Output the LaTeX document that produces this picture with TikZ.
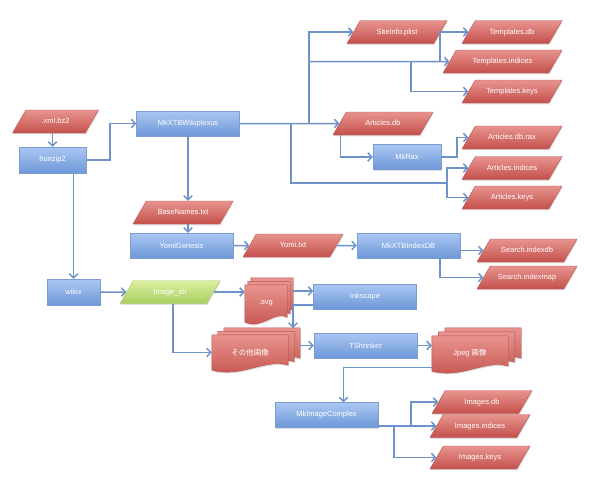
\documentclass[tikz,border=0pt]{standalone}
\usepackage{fontspec}
\setmainfont{Liberation Sans}
\newfontfamily\jpfont{Noto Sans CJK JP}
\usetikzlibrary{shapes.geometric,arrows.meta,backgrounds,calc,shadows}
\definecolor{wpBlueTop}{HTML}{AAC7F2}
\definecolor{wpBlueBot}{HTML}{6E98D8}
\definecolor{wpBlueRule}{HTML}{7B9CD1}
\definecolor{wpRedTop}{HTML}{E8948F}
\definecolor{wpRedBot}{HTML}{C4504B}
\definecolor{wpRedRule}{HTML}{B9524E}
\definecolor{wpGreenTop}{HTML}{DDF0A2}
\definecolor{wpGreenBot}{HTML}{A9CF5F}
\definecolor{wpGreenRule}{HTML}{A6C66A}
\definecolor{wpLink}{HTML}{6E93CB}

% stack of three documents behind node #1, layers stepped by (#2,#3)
\newcommand\docstack[3]{%
  \begin{scope}[on background layer]
    \foreach \k in {2,1,0}
      \path[docs] let \p1=([shift={(\k*#2,\k*(#3))}]#1.north west),
                      \p2=([shift={(\k*#2,\k*(#3))}]#1.south east) in
        (\x1,\y1) -- (\x2,\y1) -- (\x2,\y2+5pt)
        .. controls ({\x2-0.3*(\x2-\x1)},\y2+12pt) and ({\x1+0.4*(\x2-\x1)},\y2-8pt) .. (\x1,\y2) -- cycle;
  \end{scope}}

\begin{document}
\begin{tikzpicture}[x=1pt, y=-1pt, font=\fontsize{7.5}{9}\selectfont,
  shade/.style={drop shadow={shadow xshift=0.8pt,shadow yshift=-1.3pt,opacity=0.25}},
  proc/.style={rectangle,draw=wpBlueRule,top color=wpBlueTop,bottom color=wpBlueBot,
    text=white,minimum width=103pt,minimum height=25pt,inner sep=1pt,shade},
  data/.style={trapezium,trapezium left angle=60,trapezium right angle=120,
    trapezium stretches body=true,draw=wpRedRule,top color=wpRedTop,bottom color=wpRedBot,
    text=white,minimum width=100pt,text height=6pt,text depth=1.8pt,
    inner xsep=1pt,inner ysep=7.6pt,shade},
  script/.style={data,draw=wpGreenRule,top color=wpGreenTop,bottom color=wpGreenBot},
  docnode/.style={rectangle,text=white,inner sep=0pt},
  docs/.style={draw=wpRedRule,top color=wpRedTop,bottom color=wpRedBot,shade},
  ln/.style={draw=wpLink,line width=1.5pt,-{Straight Barb[length=4pt,width=8.5pt]}}]
\useasboundingbox (0,0) rectangle (600,479);

% processes
\node[proc,minimum width=67pt,minimum height=26pt] (bz) at (52.5,160) {bunzip2};
\node[proc] (wiki) at (188,123.5) {MkXTBWikiplexus};
\node[proc,minimum width=68pt] (mkrax) at (407,157) {MkRax};
\node[proc] (yomigen) at (181.5,245.5) {YomiGenesis};
\node[proc] (idx) at (408.5,245.5) {MkXTBIndexDB};
\node[proc,minimum width=53pt,minimum height=26pt] (wikix) at (73.5,292) {wikix};
\node[proc] (ink) at (365,296.5) {Inkscape};
\node[proc] (tshr) at (365.5,345.5) {TShrinker};
\node[proc] (mkimg) at (326.5,415) {MkImageComplex};

% data files
\node[data,minimum width=86pt] (xml) at (55.5,121.5) {.xml.bz2};
\node[data,minimum width=119pt] (tmplidx) at (502.5,61.5) {Templates.indices};
\foreach \n/\t/\x/\y in {site/SiteInfo.plist/397/32, tmpldb/Templates.db/512/32,
    tmplkeys/Templates.keys/512/91.5, artdb/Articles.db/383/123.5,
    artrax/Articles.db.rax/512/137.5, artidx/Articles.indices/512/168,
    artkeys/Articles.keys/512/197.5, base/BaseNames.txt/183/212.5,
    yomi/Yomi.txt/293/245.5, sidxdb/Search.indexdb/527/250.5,
    sidxmap/Search.indexmap/527/277.5, imgdb/Images.db/482/402,
    imgidx/Images.indices/480/426, imgkeys/Images.keys/480/457.5}
  \node[data] (\n) at (\x,\y) {\t};
\node[script] (imgsh) at (170,292) {Image\_sh};

% document stacks
\node[docnode,minimum width=42pt,minimum height=37pt] (svg) at (266,303.5) {.svg};
\docstack{svg}{3}{-3.5}
\node[docnode,minimum width=76pt,minimum height=35pt] (others) at (250,352.5) {\jpfont その他画像};
\docstack{others}{6}{-3.5}
\node[docnode,minimum width=76pt,minimum height=35pt] (jpeg) at (470,353.5) {Jpeg {\jpfont 画像}};
\docstack{jpeg}{6.5}{-4}

% junctions
\coordinate (j1) at (291,123.5);
\coordinate (j2) at (309,123.5);
\coordinate (j3) at (447,183);
\coordinate (jt) at (309,61.5);
\coordinate (j5) at (440,61.5);
\coordinate (j6) at (411,61.5);
\coordinate (j7) at (457,157);
\coordinate (j8) at (110,160);
\coordinate (j9) at (293,305);
\coordinate (j9b) at (293,328);
\coordinate (j11) at (394,426);
\coordinate (j12) at (411,426);

\draw[ln] (xml.south -| bz.north) -- (bz.north);
\draw[ln] (bz.east) -- (j8) |- (wiki.west);
\draw[ln] (bz.south -| wikix) -- (wikix.north);
\draw[ln] (wiki.east) -- (artdb.west);
\draw[ln] (j2) |- (site.west);
\draw[ln] (jt) -- (tmplidx.west);
\draw[ln] (j5) |- (tmpldb.west);
\draw[ln] (j6) |- (tmplkeys.west);
\draw[ln] (j1) |- (j3) |- (artidx.west);
\draw[ln] (j3) |- (artkeys.west);
\draw[ln] ([xshift=8pt]artdb.bottom left corner) |- (mkrax.west);
\draw[ln] (mkrax.east) -- (j7) |- (artrax.west);
\draw[ln] (wiki.south) -- (wiki.south |- base.north);
\draw[ln] (wiki.south |- base.south) -- (wiki.south |- yomigen.north);
\draw[ln] (yomigen.east) -- (yomi.west);
\draw[ln] (yomi.east) -- (idx.west);
\draw[ln] (idx.east |- sidxdb.west) -- (sidxdb.west);
\draw[ln] ([xshift=-20pt]idx.south east) |- (sidxmap.west);
\draw[ln] (wikix.east) -- (imgsh.west);
\draw[ln] (imgsh.east) -- (imgsh.east -| svg.west);
\draw[ln] ([shift={(6,-12.5)}]svg.east) coordinate (js) -- (js -| ink.west);
\draw[ln] (ink.west |- j9) -| (j9b);
\draw[ln] ([xshift=3pt]imgsh.south) |- (others.west);
\draw[ln] ([xshift=12pt]others.east |- tshr.west) -- (tshr.west);
\draw[ln] (tshr.east) -- (tshr.east -| jpeg.west);
\draw[ln] ([yshift=-14pt]jpeg.west) -| ([xshift=17pt]mkimg.north);
\draw[ln] (mkimg.east |- imgidx.west) -- (imgidx.west);
\draw[ln] (j12) |- (imgdb.west);
\draw[ln] (j11) |- (imgkeys.west);
\end{tikzpicture}
\end{document}
